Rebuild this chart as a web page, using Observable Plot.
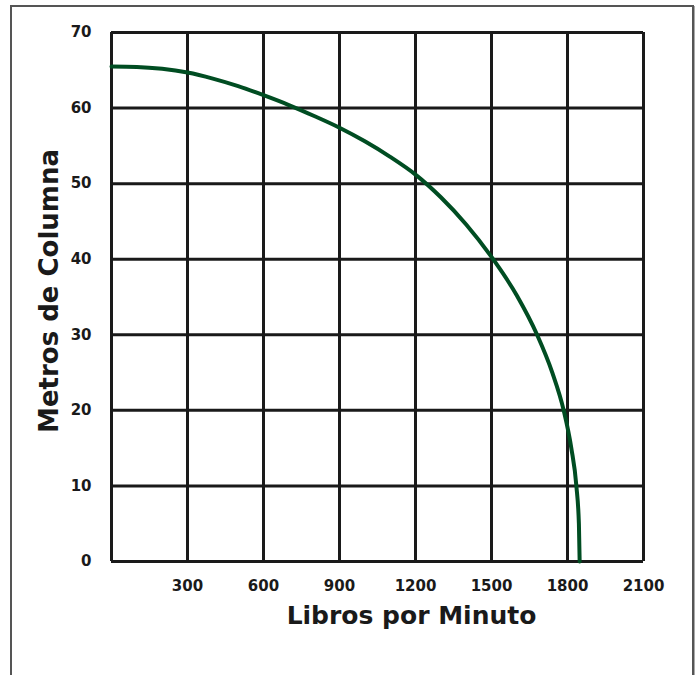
<!DOCTYPE html>
<html>
<head>
<meta charset="utf-8">
<script src="https://cdn.jsdelivr.net/npm/d3@7"></script>
<script src="https://cdn.jsdelivr.net/npm/@observablehq/plot@0.6"></script>
<style>
  html, body { margin: 0; padding: 0; background: #fff; }
  #wrap { position: relative; width: 699px; height: 675px; overflow: hidden; }
  #border { position: absolute; left: 10px; top: 5px; width: 680px; height: 700px;
    border: 2px solid #555; border-bottom: none; box-shadow: 1px 1px 0 #aaa; pointer-events: none; }
  svg { font-family: "DejaVu Sans", sans-serif; }
</style>
</head>
<body>
<div id="wrap"><div id="border"></div></div>
<script>
// Flow (litros por minuto) vs head (metros de columna)
const flow = [0, 100, 200, 300, 400, 500, 600, 700, 800, 900, 1000, 1100, 1200, 1300, 1400, 1500, 1600, 1680, 1740, 1785, 1815, 1835, 1845, 1848];
const head = [65.5, 65.45, 65.2, 64.7, 63.9, 62.9, 61.7, 60.4, 58.95, 57.4, 55.6, 53.55, 51.2, 48.2, 44.6, 40.3, 35.2, 30.0, 25.0, 20.0, 15.0, 10.0, 5.0, 0.0];
const xTicks = [300, 600, 900, 1200, 1500, 1800, 2100];
const xGrid = [0, 300, 600, 900, 1200, 1500, 1800, 2100];
const yTicks = [0, 10, 20, 30, 40, 50, 60, 70];
const xTitle = "Libros por Minuto";
const yTitle = "Metros de Columna";

const data = flow.map((q, i) => ({q, h: head[i]}));
const ink = "#1a1a1a";

const chart = Plot.plot({
  width: 699,
  height: 675,
  marginLeft: 111,
  marginRight: 56,
  marginTop: 32,
  marginBottom: 114,
  style: {fontFamily: "DejaVu Sans, sans-serif", color: ink, background: "transparent"},
  x: {domain: [0, 2100]},
  y: {domain: [0, 70]},
  marks: [
    Plot.ruleX(xGrid, {stroke: ink, strokeWidth: 3}),
    Plot.ruleY(yTicks, {stroke: ink, strokeWidth: 3}),
    Plot.axisX({ticks: xTicks, tickFormat: d => String(d), tickSize: 0, tickPadding: 19, label: null, fontSize: 15, fontWeight: "bold", fill: ink, style: {letterSpacing: "1.5px"}}),
    Plot.axisY({ticks: yTicks, tickFormat: d => String(d), tickSize: 0, tickPadding: 20, label: null, fontSize: 15, fontWeight: "bold", fill: ink, style: {letterSpacing: "1.5px"}}),
    Plot.line(data, {x: "q", y: "h", stroke: "#004d22", strokeWidth: 4, curve: "monotone-x"}),
    Plot.text([xTitle], {frameAnchor: "bottom", dy: 62, dx: 34, fontSize: 25, fontWeight: "bold", fill: ink}),
    Plot.text([yTitle], {frameAnchor: "left", dx: -62, dy: -6, rotate: -90, textAnchor: "middle", fontSize: 26, fontWeight: "bold", fill: ink})
  ]
});
chart.style.position = "absolute";
chart.style.left = "0px";
chart.style.top = "0px";
document.getElementById("wrap").appendChild(chart);
</script>
</body>
</html>
